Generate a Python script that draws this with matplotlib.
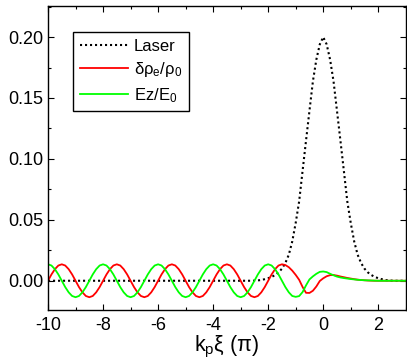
#!/usr/bin/env python
# coding: utf-8

    #========= IMPORTS ===================================================#

import numpy as np
import matplotlib
matplotlib.use("Agg")
import matplotlib.pyplot as plt
from matplotlib.ticker import MultipleLocator

    #========= DATA ======================================================#

# kp*xi in units of pi, sampled every 1/8
XI = np.arange(105) / 8.0 - 10.0

LASER = [
    0, 0, 0, 0, 0, 0, 0, 0, 0, 0, 0, 0, 0, 0, 0, 0,
    0, 0, 0, 0, 0, 0, 0, 0, 0, 0, 0, 0, 0, 0, 0, 0,
    0, 0, 0, 0, 0, 0, 0, 0, 0, 0, 0, 0, 0, 0, 0, 0,
    0, 0, 0, 0, 0, 0, 0, 0, 0, 0, 0, 0, 0.0001, 0.0003, 0.0006, 0.0013,
    0.0021, 0.0031, 0.0047, 0.0068, 0.0099, 0.0146, 0.0214, 0.0323,
    0.0475, 0.0651, 0.0902, 0.1150, 0.1395, 0.1637, 0.1815, 0.1940,
    0.2000, 0.1940, 0.1815, 0.1637, 0.1395, 0.1150, 0.0902, 0.0651,
    0.0475, 0.0323, 0.0214, 0.0146, 0.0099, 0.0068, 0.0047, 0.0031,
    0.0021, 0.0013, 0.0006, 0.0003, 0.0001, 0, 0, 0, 0,
]

DENSITY = [
    0, 0.0052, 0.0095, 0.0125, 0.0135, 0.0125, 0.0095, 0.0052,
    0, -0.0052, -0.0095, -0.0125, -0.0135, -0.0125, -0.0095, -0.0052,
    0, 0.0052, 0.0095, 0.0125, 0.0135, 0.0125, 0.0095, 0.0052,
    0, -0.0052, -0.0095, -0.0125, -0.0135, -0.0125, -0.0095, -0.0052,
    0, 0.0052, 0.0095, 0.0125, 0.0135, 0.0125, 0.0095, 0.0052,
    0, -0.0052, -0.0095, -0.0125, -0.0135, -0.0125, -0.0095, -0.0052,
    0, 0.0052, 0.0095, 0.0125, 0.0135, 0.0125, 0.0095, 0.0052,
    0, -0.0052, -0.0095, -0.0125, -0.0135, -0.0125, -0.0095, -0.0052,
    0, 0.0052, 0.0095, 0.0125, 0.0135, 0.0129, 0.0111, 0.0083,
    0.0048, 0.0008, -0.0051, -0.0099, -0.0100, -0.0082, -0.0047, -0.0002,
    0.0020, 0.0037, 0.0046, 0.0047, 0.0042, 0.0035, 0.0029, 0.0023,
    0.0018, 0.0013, 0.0009, 0.0006, 0.0004, 0.0002, 0.0001, 0,
    0, 0, 0, 0, 0, 0, 0, 0, 0,
]

FIELD = [
    0.0135, 0.0125, 0.0095, 0.0052, 0, -0.0052, -0.0095, -0.0125,
    -0.0135, -0.0125, -0.0095, -0.0052, 0, 0.0052, 0.0095, 0.0125,
    0.0135, 0.0125, 0.0095, 0.0052, 0, -0.0052, -0.0095, -0.0125,
    -0.0135, -0.0125, -0.0095, -0.0052, 0, 0.0052, 0.0095, 0.0125,
    0.0135, 0.0125, 0.0095, 0.0052, 0, -0.0052, -0.0095, -0.0125,
    -0.0135, -0.0125, -0.0095, -0.0052, 0, 0.0052, 0.0095, 0.0125,
    0.0135, 0.0125, 0.0095, 0.0052, 0, -0.0052, -0.0095, -0.0125,
    -0.0135, -0.0125, -0.0095, -0.0052, 0, 0.0052, 0.0095, 0.0125,
    0.0135, 0.0125, 0.0095, 0.0052, 0, -0.0052, -0.0095, -0.0125,
    -0.0132, -0.0126, -0.0093, -0.0038, 0.0011, 0.0036, 0.0057, 0.0073,
    0.0076, 0.0071, 0.0057, 0.0045, 0.0034, 0.0027, 0.0022, 0.0018,
    0.0014, 0.0011, 0.0008, 0.0006, 0.0004, 0.0003, 0.0002, 0.0001,
    0, 0, 0, 0, 0, 0, 0, 0, 0,
]

LABELS = ["Laser", r"δρ$_\mathrm{e}$/ρ$_\mathrm{0}$", r"Ez/E$_\mathrm{0}$"]

    #========= FIGURE ====================================================#

plt.rcParams["font.family"] = ["Liberation Sans", "DejaVu Sans"]
plt.rcParams["mathtext.fontset"] = "custom"
plt.rcParams["mathtext.rm"] = "Liberation Sans"
plt.rcParams["mathtext.it"] = "Liberation Sans:italic"
plt.rcParams["axes.unicode_minus"] = False

fig = plt.figure(figsize=(4.07, 3.59), dpi=100)
ax = fig.add_axes([0.118, 0.1365, 0.879, 0.8468])

ax.plot(XI, LASER, color="black", lw=1.5, linestyle=(0, (1, 1.4)),
        dash_capstyle="butt", label=LABELS[0])
ax.plot(XI, DENSITY, color="#ff0000", lw=1.3, label=LABELS[1])
ax.plot(XI, FIELD, color="#00ff00", lw=1.3, label=LABELS[2])

ax.set_xlim(-10, 3)
ax.set_ylim(-0.024, 0.2255)
ax.xaxis.set_major_locator(MultipleLocator(2))
ax.xaxis.set_minor_locator(MultipleLocator(1))
ax.yaxis.set_major_locator(MultipleLocator(0.05))
ax.yaxis.set_minor_locator(MultipleLocator(0.025))
ax.yaxis.set_major_formatter(plt.FormatStrFormatter("%.2f"))
ax.tick_params(which="both", direction="in", top=True, right=True,
               labelsize=13, width=0.8)
ax.tick_params(which="major", length=4, pad=5)
ax.tick_params(axis="y", which="major", pad=3.5)
ax.tick_params(which="minor", length=2.4)
for spine in ax.spines.values():
    spine.set_linewidth(1.0)

ax.set_xlabel(r"k$_\mathrm{p}$ξ (π)", fontsize=15.5, labelpad=0)

leg = ax.legend(loc="upper left", bbox_to_anchor=(0.07, 0.915), borderaxespad=0,
                fontsize=12, frameon=True, fancybox=False, edgecolor="black",
                framealpha=1, handlelength=2.9, handletextpad=0.35,
                labelspacing=0.4, borderpad=0.4)
leg.get_frame().set_linewidth(1.0)

fig.savefig("out.png", dpi=100)
